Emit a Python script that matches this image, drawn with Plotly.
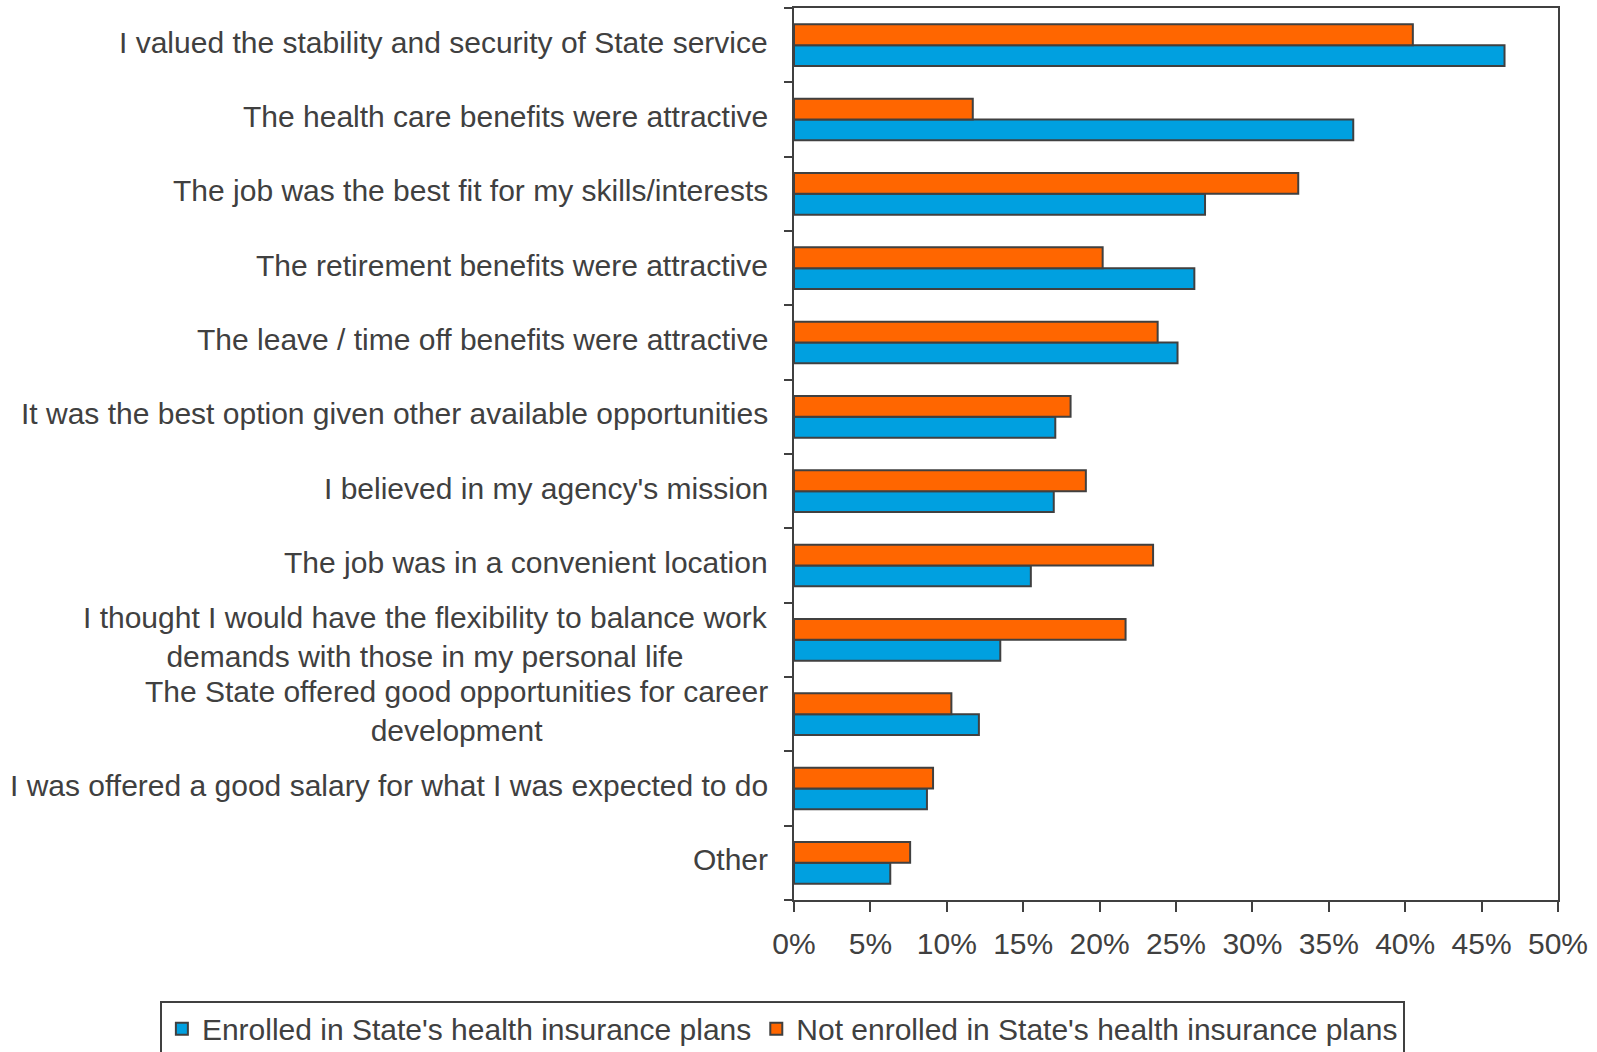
import plotly.graph_objects as go

categories = [
    "I valued the stability and security of State service",
    "The health care benefits were attractive",
    "The job was the best fit for my skills/interests",
    "The retirement benefits were attractive",
    "The leave / time off benefits were attractive",
    "It was the best option given other available opportunities",
    "I believed in my agency's mission",
    "The job was in a convenient location",
    "I thought I would have the flexibility to balance work<br>demands with those in my personal life",
    "The State offered good opportunities for career<br>development",
    "I was offered a good salary for what I was expected to do",
    "Other",
]
enrolled = [46.5, 36.6, 26.9, 26.2, 25.1, 17.1, 17.0, 15.5, 13.5, 12.1, 8.7, 6.3]
not_enrolled = [40.5, 11.7, 33.0, 20.2, 23.8, 18.1, 19.1, 23.5, 21.7, 10.3, 9.1, 7.6]
tick_vals = [0, 5, 10, 15, 20, 25, 30, 35, 40, 45, 50]
tick_text = [f"{v}%" for v in tick_vals]

INK = "#404040"
FONT = "Liberation Sans, Arial, sans-serif"
SIZE = 30

fig = go.Figure()
fig.add_trace(go.Bar(
    y=categories, x=enrolled, orientation="h",
    name="Enrolled in State's health insurance plans",
    marker=dict(color="#00A0E0", line=dict(color=INK, width=2)),
))
fig.add_trace(go.Bar(
    y=categories, x=not_enrolled, orientation="h",
    name="Not enrolled in State's health insurance plans",
    marker=dict(color="#FF6600", line=dict(color=INK, width=2)),
))

# category labels as annotations so wrapped lines stay centred
for c in categories:
    fig.add_annotation(
        x=0, xref="paper", y=c, yref="y", text=c, showarrow=False,
        xanchor="right", yanchor="middle", align="center",
        xshift=-24, yshift=3,
        font=dict(family=FONT, size=SIZE, color=INK),
    )

fig.update_layout(
    width=1597, height=1052,
    margin=dict(l=794, r=39, t=8, b=152, autoexpand=False),
    paper_bgcolor="white", plot_bgcolor="white",
    barmode="group", bargap=0.44, bargroupgap=0,
    font=dict(family=FONT, size=SIZE, color=INK),
    showlegend=True,
    legend=dict(
        orientation="h", xref="paper", x=-0.83, xanchor="left",
        yref="paper", y=-0.113, yanchor="top",
        bordercolor=INK, borderwidth=2,
        font=dict(family=FONT, size=SIZE, color=INK),
        traceorder="normal", itemwidth=30, tracegroupgap=0,
    ),
    xaxis=dict(
        range=[0, 50], tickvals=tick_vals, ticktext=tick_text,
        ticks="outside", ticklen=10, tickwidth=2, tickcolor=INK,
        ticklabelstandoff=6,
        showline=True, linecolor=INK, linewidth=2, mirror=True,
        showgrid=False, zeroline=False,
        tickfont=dict(family=FONT, size=SIZE, color=INK),
    ),
    yaxis=dict(
        categoryorder="array", categoryarray=list(reversed(categories)),
        tickson="boundaries", ticks="outside", ticklen=8, tickwidth=2,
        tickcolor=INK, showticklabels=False,
        showline=True, linecolor=INK, linewidth=2, mirror=True,
        showgrid=False, zeroline=False,
    ),
)

fig.write_html("out.html")
